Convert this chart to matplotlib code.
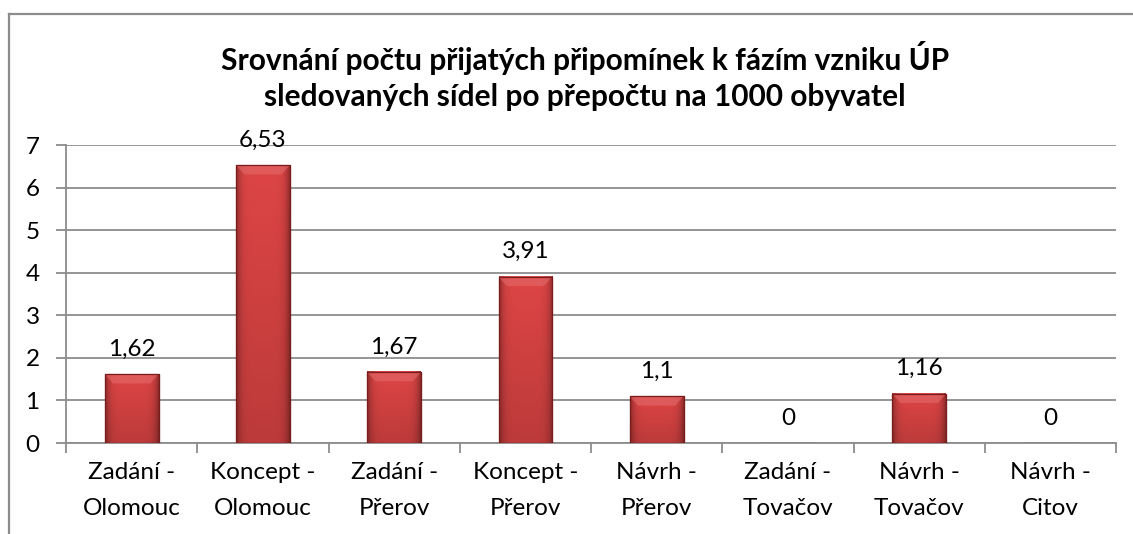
import numpy as np
import matplotlib
matplotlib.use('Agg')
import matplotlib.pyplot as plt
from matplotlib.lines import Line2D

categories = ['Zadání -\nOlomouc', 'Koncept -\nOlomouc', 'Zadání -\nPřerov', 'Koncept -\nPřerov',
              'Návrh -\nPřerov', 'Zadání -\nTovačov', 'Návrh -\nTovačov', 'Návrh -\nCitov']
values = [1.62, 6.53, 1.67, 3.91, 1.1, 0, 1.16, 0]
value_labels = ['1,62', '6,53', '1,67', '3,91', '1,1', '0', '1,16', '0']
title = 'Srovnání počtu přijatých připomínek k fázím vzniku ÚP\nsledovaných sídel po přepočtu na 1000 obyvatel'

plt.rcParams['font.family'] = ['Lato', 'DejaVu Sans']
grey = '#8c8c8c'

fig = plt.figure(figsize=(11.33, 5.34), dpi=100)
fig.patch.set_facecolor('white')
ax = fig.add_axes([0.0583, 0.1704, 0.9267, 0.558])

x = np.arange(len(values))
bars = ax.bar(x, values, width=0.41, color='#cf3f3f', edgecolor='#7a1c1c', linewidth=0.8, zorder=3)

# shading to imitate the bevelled Excel bars
h_prof = np.linspace(-1, 1, 60)
side = 1 - 0.35 * np.abs(h_prof) ** 6
for b in bars:
    if b.get_height() <= 0:
        continue
    x0, y0 = b.get_x(), b.get_y()
    w, h = b.get_width(), b.get_height()
    v = np.linspace(1.0, 0.85, 100)[:, None]
    shade = v * side[None, :]
    base = np.array([0.87, 0.27, 0.27])
    img = base[None, None, :] * shade[:, :, None]
    ax.imshow(img, extent=[x0, x0 + w, y0, y0 + h], aspect='auto', zorder=3.5,
              interpolation='bilinear', origin='upper')
    # lighter top bevel
    bev = min(0.22, h * 0.5)
    ax.fill([x0, x0 + w, x0 + w * 0.85, x0 + w * 0.15],
            [y0 + h, y0 + h, y0 + h - bev, y0 + h - bev],
            color='#e36a6a', alpha=0.6, zorder=3.6, linewidth=0)
    ax.add_patch(plt.Rectangle((x0, y0), w, h, fill=False, edgecolor='#7a1c1c', linewidth=0.9, zorder=3.8))

for xi, v, lab in zip(x, values, value_labels):
    ax.annotate(lab, (xi, v), xytext=(0, 18), textcoords='offset points',
                ha='center', va='center', fontsize=17.5, color='black')

ax.set_xlim(-0.5, len(values) - 0.5)
ax.set_ylim(0, 7)
ax.set_yticks(range(0, 8))
ax.yaxis.grid(True, color=grey, linewidth=1.3, zorder=0)
ax.set_axisbelow(True)

ax.set_xticks(x)
ax.set_xticklabels(categories, fontsize=17.5, linespacing=1.85)
ax.set_xticks(np.arange(-0.5, len(values)), minor=True)
ax.tick_params(axis='x', which='major', length=0, pad=14)
ax.tick_params(axis='x', which='minor', length=7, width=1.3, color=grey)
ax.tick_params(axis='y', length=7, width=1.3, color=grey, labelsize=17.5, pad=12)

for s in ['top', 'right']:
    ax.spines[s].set_visible(False)
for s in ['left', 'bottom']:
    ax.spines[s].set_color(grey)
    ax.spines[s].set_linewidth(1.3)

fig.text(0.516, 0.857, title, ha='center', va='center', fontsize=21.5, fontweight='bold',
         linespacing=1.35)

# chart border (cropped)
fig.add_artist(Line2D([9 / 1133, 1], [1 - 14 / 534, 1 - 14 / 534], color=grey, linewidth=1.6))
fig.add_artist(Line2D([9 / 1133, 9 / 1133], [0, 1 - 14 / 534], color=grey, linewidth=1.6))

fig.savefig('out.png', dpi=100)
